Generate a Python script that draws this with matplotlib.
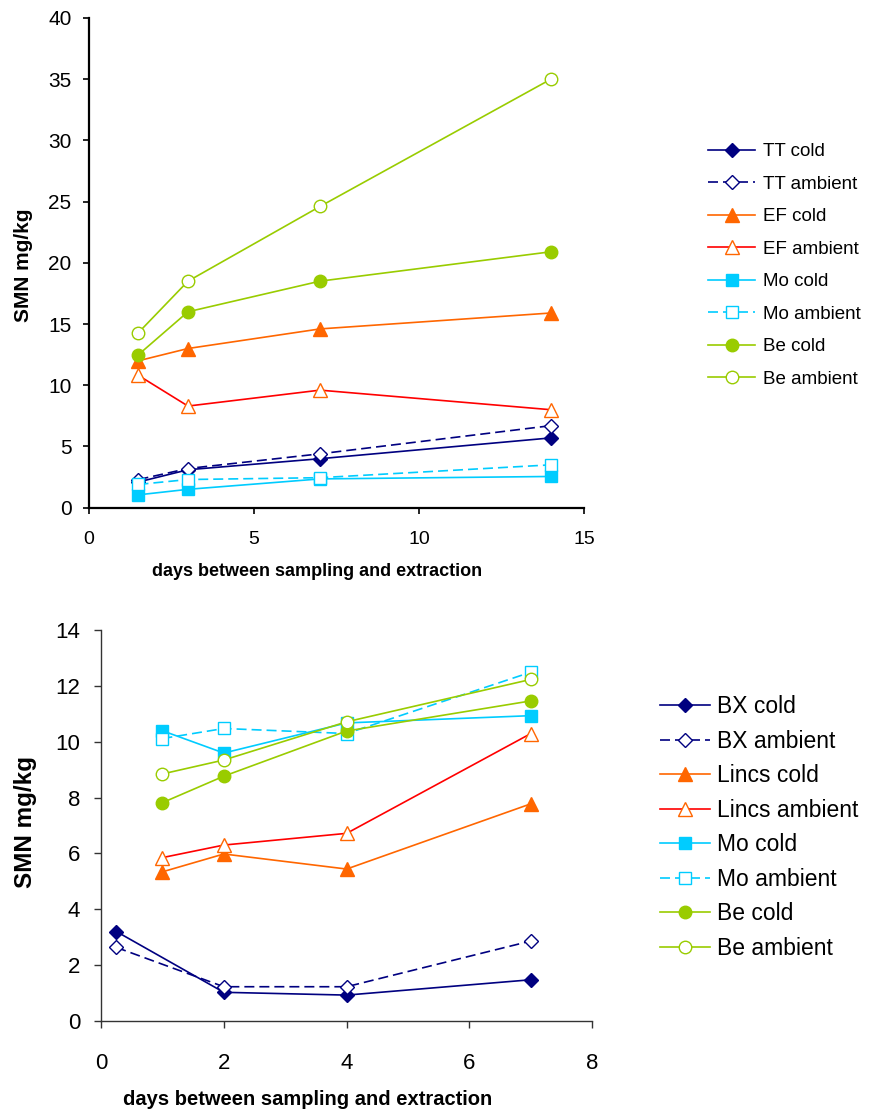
import matplotlib
matplotlib.use('Agg')
import matplotlib.pyplot as plt

plt.rcParams['font.family'] = ['Liberation Sans', 'DejaVu Sans']

# top chart data
days_top = [1.5, 3, 7, 14]
tt_cold = [2.1, 3.1, 4.0, 5.7]
tt_amb = [2.3, 3.2, 4.4, 6.7]
ef_cold = [12.0, 13.0, 14.6, 15.9]
ef_amb = [10.8, 8.3, 9.6, 8.0]
mo_cold_t = [1.05, 1.5, 2.35, 2.55]
mo_amb_t = [1.9, 2.3, 2.45, 3.5]
be_cold_t = [12.5, 16.0, 18.5, 20.9]
be_amb_t = [14.3, 18.5, 24.6, 35.0]

# bottom chart data
days_bx = [0.25, 2, 4, 7]
days_bot = [1, 2, 4, 7]
bx_cold = [3.2, 1.02, 0.92, 1.47]
bx_amb = [2.63, 1.22, 1.22, 2.86]
lincs_cold = [5.34, 5.98, 5.44, 7.78]
lincs_amb = [5.85, 6.3, 6.72, 10.3]
mo_cold_b = [10.4, 9.6, 10.68, 10.94]
mo_amb_b = [10.12, 10.48, 10.3, 12.5]
be_cold_b = [7.82, 8.77, 10.39, 11.47]
be_amb_b = [8.85, 9.35, 10.72, 12.24]

navy = '#000080'
orange = '#FF6600'
red = '#FF0000'
cyan = '#00CCFF'
green = '#99CC00'

fig = plt.figure(figsize=(8.69, 11.19), dpi=100)
ax1 = fig.add_axes([0.1024, 0.5463, 0.5696, 0.4377])
ax2 = fig.add_axes([0.1162, 0.0878, 0.5654, 0.3489])

lw = 1.2
ms_o = 9      # circles
ms_t = 10     # triangles
ms_s = 8.5    # squares
ms_d = 7.5    # diamonds

# top chart
ax1.plot(days_top, tt_cold, color=navy, lw=lw, marker='D', ms=ms_d, label='TT cold')
ax1.plot(days_top, tt_amb, color=navy, lw=lw, dashes=(6, 3), marker='D', ms=ms_d,
         mfc='white', mec=navy, label='TT ambient')
ax1.plot(days_top, ef_cold, color=orange, lw=lw, marker='^', ms=ms_t, label='EF cold')
ax1.plot(days_top, ef_amb, color=red, lw=lw, marker='^', ms=ms_t,
         mfc='white', mec=orange, label='EF ambient')
ax1.plot(days_top, mo_cold_t, color=cyan, lw=lw, marker='s', ms=ms_s, label='Mo cold')
ax1.plot(days_top, mo_amb_t, color=cyan, lw=lw, dashes=(6, 3), marker='s', ms=ms_s,
         mfc='white', mec=cyan, label='Mo ambient')
ax1.plot(days_top, be_cold_t, color=green, lw=lw, marker='o', ms=ms_o, label='Be cold')
ax1.plot(days_top, be_amb_t, color=green, lw=lw, marker='o', ms=ms_o,
         mfc='white', mec=green, label='Be ambient')

ax1.set_xlim(0, 15)
ax1.set_ylim(0, 40)
ax1.set_xticks([0, 5, 10, 15])
ax1.set_yticks(range(0, 41, 5))
for s in ['top', 'right']:
    ax1.spines[s].set_visible(False)
for s in ['left', 'bottom']:
    ax1.spines[s].set_linewidth(1.6)
ax1.tick_params(axis='y', direction='out', length=4.5, width=1.2, labelsize=15, pad=8)
ax1.tick_params(axis='x', direction='out', length=4, width=1.2, labelsize=14, pad=13)
ax1.set_xlabel('days between sampling and extraction', fontsize=13, fontweight='bold')
ax1.xaxis.set_label_coords(0.4616, -0.112)
ax1.set_ylabel('SMN mg/kg', fontsize=15, fontweight='bold')
ax1.yaxis.set_label_coords(-0.113, 0.4956)
ax1.legend(loc='upper left', bbox_to_anchor=(0.815, 0.872), bbox_transform=fig.transFigure,
           frameon=False, fontsize=13.5, handlelength=2.5, handletextpad=0.4,
           labelspacing=0.82, borderaxespad=0, borderpad=0)

# bottom chart
ax2.plot(days_bx, bx_cold, color=navy, lw=lw, marker='D', ms=ms_d, label='BX cold')
ax2.plot(days_bx, bx_amb, color=navy, lw=lw, dashes=(6, 3), marker='D', ms=ms_d,
         mfc='white', mec=navy, label='BX ambient')
ax2.plot(days_bot, lincs_cold, color=orange, lw=lw, marker='^', ms=ms_t, label='Lincs cold')
ax2.plot(days_bot, lincs_amb, color=red, lw=lw, marker='^', ms=ms_t,
         mfc='white', mec=orange, label='Lincs ambient')
ax2.plot(days_bot, mo_cold_b, color=cyan, lw=lw, marker='s', ms=ms_s, label='Mo cold')
ax2.plot(days_bot, mo_amb_b, color=cyan, lw=lw, dashes=(6, 3), marker='s', ms=ms_s,
         mfc='white', mec=cyan, label='Mo ambient')
ax2.plot(days_bot, be_cold_b, color=green, lw=lw, marker='o', ms=ms_o, label='Be cold')
ax2.plot(days_bot, be_amb_b, color=green, lw=lw, marker='o', ms=ms_o,
         mfc='white', mec=green, label='Be ambient')

ax2.set_xlim(0, 8)
ax2.set_ylim(0, 14)
ax2.set_xticks(range(0, 9, 2))
ax2.set_yticks(range(0, 15, 2))
for s in ['top', 'right']:
    ax2.spines[s].set_visible(False)
for s in ['left', 'bottom']:
    ax2.spines[s].set_linewidth(1.0)
    ax2.spines[s].set_color('#333333')
ax2.tick_params(axis='both', direction='out', length=5, width=1.0, color='#333333',
                labelsize=16)
ax2.tick_params(axis='y', pad=10)
ax2.tick_params(axis='x', pad=18)
ax2.set_xlabel('days between sampling and extraction', fontsize=14.5, fontweight='bold')
ax2.xaxis.set_label_coords(0.4213, -0.178)
ax2.set_ylabel('SMN mg/kg', fontsize=17.5, fontweight='bold')
ax2.yaxis.set_label_coords(-0.13, 0.51)
ax2.legend(loc='upper left', bbox_to_anchor=(0.759, 0.3785), bbox_transform=fig.transFigure,
           frameon=False, fontsize=16.5, handlelength=2.2, handletextpad=0.3,
           labelspacing=0.5, borderaxespad=0, borderpad=0)

fig.savefig('out.png', dpi=100)
